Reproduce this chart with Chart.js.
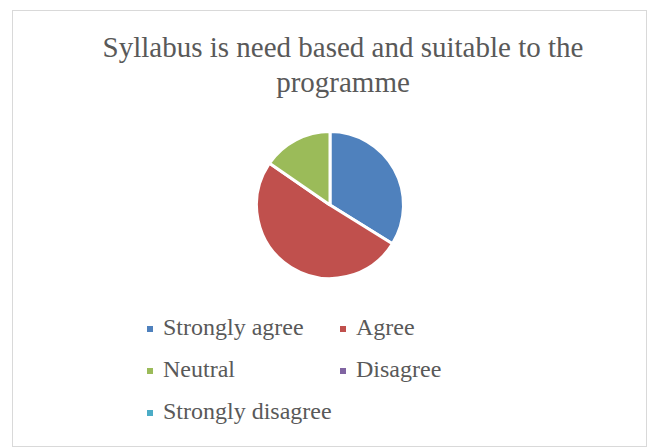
<!DOCTYPE html>
<html>
<head>
<meta charset="utf-8">
<script src="https://cdn.jsdelivr.net/npm/chart.js@4"></script>
<style>
  body { margin: 0; background: #fff; }
  #frame { position: absolute; left: 12px; top: 10px; width: 633px; height: 435px; border: 1px solid #d9d9d9; }
  #title { position: absolute; left: 0; top: 30px; width: 686px; text-align: center;
           font: 29px "Liberation Serif", "Times New Roman", serif; line-height: 35px; color: #595959; }
  #pieBox { position: absolute; left: 250px; top: 125px; width: 160px; height: 160px; }
  #legend { position: absolute; left: 147px; top: 306px; display: grid;
            grid-template-columns: 193px auto; font: 24px "Liberation Serif", "Times New Roman", serif;
            line-height: 42px; color: #595959; }
  .item { white-space: nowrap; }
  .box { display: inline-block; width: 6px; height: 6px; margin-right: 10px; vertical-align: 3px; }
</style>
</head>
<body>
<div id="frame"></div>
<div id="title">Syllabus is need based and suitable to the<br>programme</div>
<div id="pieBox"><canvas id="pie" width="160" height="160"></canvas></div>
<div id="legend"></div>
<script>
// responses
const labels = ['Strongly agree', 'Agree', 'Neutral', 'Disagree', 'Strongly disagree'];
const counts = [22, 33, 10, 0, 0];
const colors = ['#4F81BD', '#C0504D', '#9BBB59', '#8064A2', '#4BACC6'];

const chart = new Chart(document.getElementById('pie'), {
    type: 'pie',
    data: {
        labels: labels,
        datasets: [{
            data: counts,
            backgroundColor: colors,
            borderColor: '#ffffff',
            borderWidth: 3
        }]
    },
    options: {
        responsive: false,
        animation: false,
        radius: 73.5,
        plugins: {
            legend: { display: false },
            tooltip: { enabled: false }
        }
    }
});

// legend built from the chart's own labels
const legend = document.getElementById('legend');
chart.data.labels.forEach((lab, i) => {
    const div = document.createElement('div');
    div.className = 'item';
    const sq = document.createElement('span');
    sq.className = 'box';
    sq.style.background = chart.data.datasets[0].backgroundColor[i];
    div.appendChild(sq);
    div.appendChild(document.createTextNode(lab));
    legend.appendChild(div);
});
</script>
</body>
</html>
